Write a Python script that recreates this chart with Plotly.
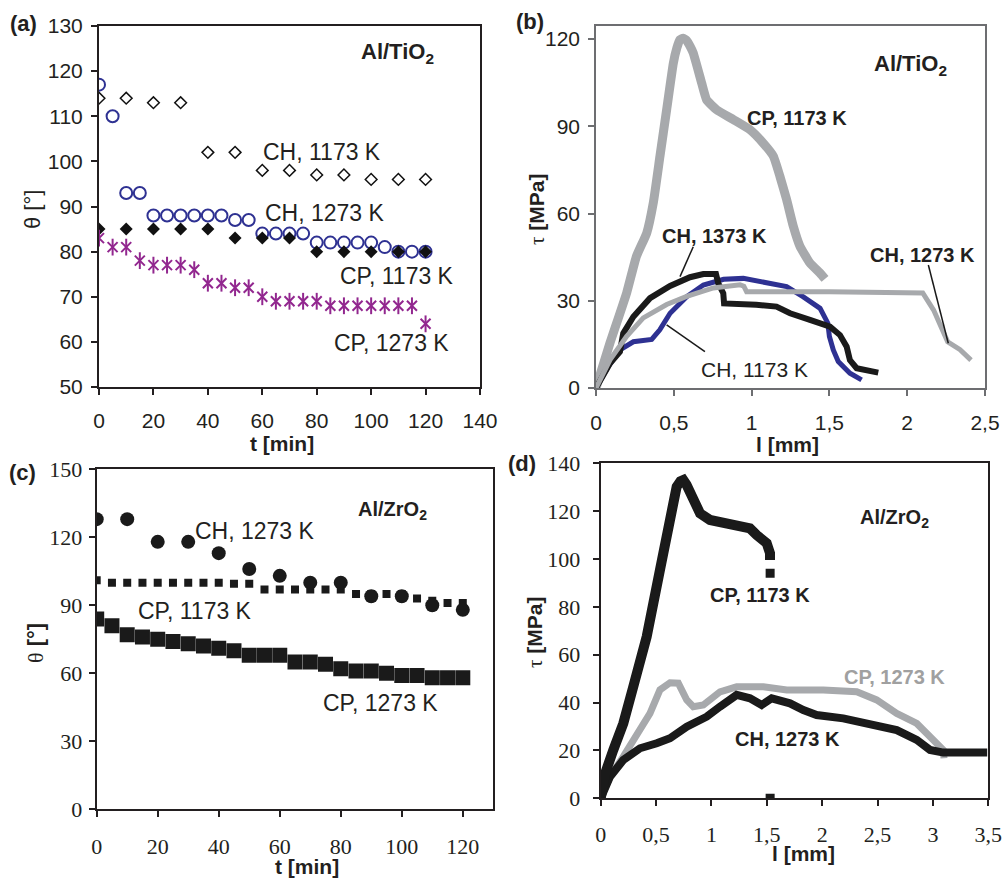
import plotly.graph_objects as go

# ---------------- Panel (a) Al/TiO2 contact angle ----------------
a_t13 = [0, 10, 20, 30, 40, 50, 60, 70, 80, 90, 100, 110, 120]
a_t5 = [0, 5, 10, 15, 20, 25, 30, 35, 40, 45, 50, 55, 60, 65, 70, 75, 80, 85, 90, 95, 100, 105, 110, 115, 120]
a_ch1173 = [114, 114, 113, 113, 102, 102, 98, 98, 97, 97, 96, 96, 96]
a_ch1273 = [117, 110, 93, 93, 88, 88, 88, 88, 88, 88, 87, 87, 84, 84, 84, 84, 82, 82, 82, 82, 82, 81, 80, 80, 80]
a_cp1173 = [85, 85, 85, 85, 85, 83, 83, 83, 80, 80, 80, 80, 80]
a_cp1273 = [83, 81, 81, 78, 77, 77, 77, 76, 73, 73, 72, 72, 70, 69, 69, 69, 69, 68, 68, 68, 68, 68, 68, 68, 64]

# ---------------- Panel (b) Al/TiO2 shear curves ----------------
b_cp1173_l = [0, 0.09, 0.197, 0.26, 0.326, 0.368, 0.411, 0.454, 0.497, 0.52, 0.54, 0.56, 0.583, 0.605, 0.625, 0.679, 0.711,
              0.775, 0.883, 0.99, 1.075, 1.14, 1.182, 1.225, 1.268, 1.311, 1.375, 1.44, 1.472]
b_cp1173_t = [0, 15.5, 32.7, 45.3, 53.3, 63.6, 79.7, 95.7, 111.7, 117.0, 119.8, 120.3, 119.5, 117.5, 115.2, 104.9, 99.1,
              95.7, 92.3, 88.8, 84.2, 79.7, 72.8, 64.8, 55.6, 48.7, 43.0, 39.5, 37.5]
b_ch1273_l = [0, 0.09, 0.197, 0.304, 0.454, 0.583, 0.754, 0.925, 0.95, 0.968, 1.5, 2.08, 2.1, 2.17, 2.26, 2.34, 2.41]
b_ch1273_t = [0, 9.7, 17.8, 24.1, 28.7, 31.5, 34.4, 35.5, 35.0, 33.1, 33.1, 33.1, 32.7, 26.8, 15.9, 13.2, 9.6]
b_ch1173_l = [0, 0.08, 0.154, 0.24, 0.358, 0.41, 0.476, 0.583, 0.69, 0.82, 0.947, 1.075, 1.225, 1.33,
              1.44, 1.49, 1.5, 1.525, 1.557, 1.632, 1.707]
b_ch1173_t = [0, 7.5, 13.1, 15.9, 16.7, 20, 25.7, 31.4, 35.4, 37.4, 37.7, 36.6, 34.9, 31.4,
              27.4, 22.3, 17.7, 13.1, 9.1, 5.1, 2.8]
b_ch1373_l = [0, 0.09, 0.154, 0.175, 0.24, 0.347, 0.476, 0.604, 0.69, 0.771, 0.786, 0.818, 0.823, 0.882,
              1.03, 1.16, 1.247, 1.375, 1.504, 1.568, 1.611, 1.632, 1.675, 1.814]
b_ch1373_t = [0, 8.5, 12.5, 18.8, 24.5, 30.9, 35.1, 38.1, 39.2, 39.2, 36, 32.6, 29.1, 29.1,
              28.6, 28, 25.7, 23.4, 21.1, 18.2, 14.2, 9.6, 6.8, 5.3]

# ---------------- Panel (c) Al/ZrO2 contact angle ----------------
c_t10 = [0, 10, 20, 30, 40, 50, 60, 70, 80, 90, 100, 110, 120]
c_t5 = [0, 5, 10, 15, 20, 25, 30, 35, 40, 45, 50, 55, 60, 65, 70, 75, 80, 85, 90, 95, 100, 105, 110, 115, 120]
c_ch1273 = [128, 128, 118, 118, 113, 106, 103, 100, 100, 94, 94, 90, 88]
c_cp1173 = [101, 100, 100, 100, 100, 100, 100, 100, 100, 99.5, 99.5, 97, 97, 97, 97, 97, 97, 95, 95, 95, 95, 93, 92, 91, 91]
c_cp1273 = [84, 81, 77, 76, 75, 74, 73, 72, 71, 70, 68, 68, 68, 65, 65, 64, 62, 61, 61, 60, 59, 59, 58, 58, 58]

# ---------------- Panel (d) Al/ZrO2 shear curves ----------------
d_cp1173_l = [0, 0.04, 0.114, 0.204, 0.294, 0.415, 0.535, 0.626, 0.686, 0.72, 0.746, 0.775, 0.806, 0.897, 0.987,
              1.168, 1.348, 1.409, 1.499, 1.529, 1.529]
d_cp1173_t = [0, 10.4, 20.2, 31.3, 46.6, 67.5, 95.4, 119.1, 130.2, 132.5, 133, 131, 127.5, 119.1, 116.3,
              114.9, 112.8, 110, 106.6, 102.4, 99.6]
d_cp1173_pts_l = [1.53, 1.53]
d_cp1173_pts_t = [94, 0]
d_ch1273_l = [0, 0.084, 0.204, 0.355, 0.506, 0.626, 0.777, 0.957, 1.077, 1.228, 1.348, 1.454, 1.544,
              1.709, 1.83, 1.95, 2.19, 2.432, 2.673, 2.854, 2.974, 3.094, 3.49]
d_ch1273_t = [0, 9, 16, 20.9, 23, 25.1, 29.9, 34.1, 38.3, 43.2, 41.8, 39, 41.8,
              39.7, 36.9, 34.8, 33.4, 31.3, 28.5, 24.4, 20.2, 19.1, 19.1]
d_cp1273_l = [0, 0.084, 0.204, 0.355, 0.445, 0.535, 0.626, 0.701, 0.777, 0.836, 0.927, 1.077, 1.228,
              1.469, 1.68, 2.01, 2.312, 2.492, 2.673, 2.854, 3.004, 3.094, 3.1]
d_cp1273_t = [0, 9, 17.4, 28.5, 35.5, 45.3, 48.3, 48.1, 41.1, 38.3, 39, 44.5, 46.6,
              46.6, 45.3, 45.3, 44.5, 41.1, 35.5, 31.3, 24.4, 20.2, 16.7]

W, H = 1006, 878
TXT = "#231f20"
SANS = "Liberation Sans, Arial, sans-serif"
SERIF = "Liberation Serif, Times New Roman, serif"
BLUE = "#2e3192"
PURPLE = "#92278f"
LGRAY = "#a7a9ac"


def dom_x(p0, p1):
    return [p0 / W, p1 / W]


def dom_y(p_top, p_bot):
    return [1 - p_bot / H, 1 - p_top / H]


fig = go.Figure()

# (a)
fig.add_trace(go.Scatter(x=a_t13, y=a_ch1173, mode="markers", xaxis="x", yaxis="y",
                         marker=dict(symbol="diamond-open", size=9, color="#111", line=dict(width=1.5))))
fig.add_trace(go.Scatter(x=a_t5, y=a_ch1273, mode="markers", xaxis="x", yaxis="y",
                         marker=dict(symbol="circle-open", size=12, color=BLUE, line=dict(width=2))))
fig.add_trace(go.Scatter(x=a_t13, y=a_cp1173, mode="markers", xaxis="x", yaxis="y",
                         marker=dict(symbol="diamond", size=10, color="#111")))
fig.add_trace(go.Scatter(x=a_t5, y=a_cp1273, mode="markers", xaxis="x", yaxis="y",
                         marker=dict(symbol="x-thin-open", size=10, color=PURPLE, line=dict(width=2, color=PURPLE))))
fig.add_trace(go.Scatter(x=a_t5, y=a_cp1273, mode="markers", xaxis="x", yaxis="y",
                         marker=dict(symbol="line-ns-open", size=12, color=PURPLE, line=dict(width=2, color=PURPLE))))

# (b)
fig.add_trace(go.Scatter(x=b_cp1173_l, y=b_cp1173_t, mode="lines", xaxis="x2", yaxis="y2",
                         line=dict(color=LGRAY, width=9, shape="spline", smoothing=0.4)))
fig.add_trace(go.Scatter(x=b_ch1173_l, y=b_ch1173_t, mode="lines", xaxis="x2", yaxis="y2",
                         line=dict(color=BLUE, width=5)))
fig.add_trace(go.Scatter(x=b_ch1373_l, y=b_ch1373_t, mode="lines", xaxis="x2", yaxis="y2",
                         line=dict(color="#1a1a1a", width=6)))
fig.add_trace(go.Scatter(x=b_ch1273_l, y=b_ch1273_t, mode="lines", xaxis="x2", yaxis="y2",
                         line=dict(color=LGRAY, width=5)))

# (c)
fig.add_trace(go.Scatter(x=c_t5, y=c_cp1273, mode="markers", xaxis="x3", yaxis="y3",
                         marker=dict(symbol="square", size=15, color="#1a1a1a")))
fig.add_trace(go.Scatter(x=c_t5, y=c_cp1173, mode="markers", xaxis="x3", yaxis="y3",
                         marker=dict(symbol="square", size=8, color="#1a1a1a")))
fig.add_trace(go.Scatter(x=c_t10, y=c_ch1273, mode="markers", xaxis="x3", yaxis="y3",
                         marker=dict(symbol="circle", size=14, color="#1a1a1a")))

# (d)
fig.add_trace(go.Scatter(x=d_cp1273_l, y=d_cp1273_t, mode="lines", xaxis="x4", yaxis="y4",
                         line=dict(color=LGRAY, width=7)))
fig.add_trace(go.Scatter(x=d_ch1273_l, y=d_ch1273_t, mode="lines", xaxis="x4", yaxis="y4",
                         line=dict(color="#1a1a1a", width=8)))
fig.add_trace(go.Scatter(x=d_cp1173_l, y=d_cp1173_t, mode="lines", xaxis="x4", yaxis="y4",
                         line=dict(color="#1a1a1a", width=10)))
fig.add_trace(go.Scatter(x=d_cp1173_pts_l, y=d_cp1173_pts_t, mode="markers", xaxis="x4", yaxis="y4",
                         marker=dict(symbol="square", size=9, color="#1a1a1a")))


def axis(domain, rng, tickvals, ticktext, anchor, family, size, standoff, color="#231f20", lw=2):
    return dict(domain=domain, range=rng, tickvals=tickvals, ticktext=ticktext, anchor=anchor,
                ticks="outside", ticklen=6, tickwidth=1.5, tickcolor=color,
                showline=True, linecolor=color, linewidth=lw, mirror=True,
                showgrid=False, zeroline=False, fixedrange=True, automargin=False,
                tickfont=dict(family=family, size=size, color=TXT),
                ticklabelstandoff=standoff)


fig.update_layout(
    width=W, height=H, margin=dict(l=0, r=0, t=0, b=0, pad=0, autoexpand=False),
    paper_bgcolor="white", plot_bgcolor="white", showlegend=False,
    xaxis=axis(dom_x(99, 480), [0, 140], [0, 20, 40, 60, 80, 100, 120, 140],
               ["0", "20", "40", "60", "80", "100", "120", "140"], "y", SANS, 21, 8),
    yaxis=axis(dom_y(26, 387), [50, 130], [50, 60, 70, 80, 90, 100, 110, 120, 130],
               ["50", "60", "70", "80", "90", "100", "110", "120", "130"], "x", SANS, 21, 4),
    xaxis2=axis(dom_x(596, 985), [0, 2.5], [0, 0.5, 1, 1.5, 2, 2.5],
                ["0", "0,5", "1", "1,5", "2", "2,5"], "y2", SANS, 21, 9, color="#6d6e71", lw=1.5),
    yaxis2=axis(dom_y(26, 388), [0, 124.5], [0, 30, 60, 90, 120],
                ["0", "30", "60", "90", "120"], "x2", SANS, 21, 4, color="#6d6e71", lw=1.5),
    xaxis3=axis(dom_x(96.7, 493.3), [0, 130], [0, 20, 40, 60, 80, 100, 120],
                ["0", "20", "40", "60", "80", "100", "120"], "y3", SERIF, 22, 10),
    yaxis3=axis(dom_y(469.3, 809.3), [0, 150], [0, 30, 60, 90, 120, 150],
                ["0", "30", "60", "90", "120", "150"], "x3", SERIF, 22, 2),
    xaxis4=axis(dom_x(600.7, 988.3), [0, 3.5], [0, 0.5, 1, 1.5, 2, 2.5, 3, 3.5],
                ["0", "0,5", "1", "1,5", "2", "2,5", "3", "3,5"], "y4", SERIF, 22, 9),
    yaxis4=axis(dom_y(463.3, 798.3), [0, 140], [0, 20, 40, 60, 80, 100, 120, 140],
                ["0", "20", "40", "60", "80", "100", "120", "140"], "x4", SERIF, 22, 8),
)

ann = []


def lab(text, x, y, xref, yref, size, color=TXT, family=SANS, angle=0):
    ann.append(dict(text=text, x=x, y=y, xref=xref, yref=yref, showarrow=False,
                    xanchor="center", yanchor="middle", textangle=angle,
                    font=dict(family=family, size=size, color=color)))


# data-anchored labels
lab("<b>Al/TiO<sub>2</sub></b>", 109.5, 124, "x", "y", 22)
lab("CH, 1173 K", 82, 102, "x", "y", 23)
lab("CH, 1273 K", 83, 88.5, "x", "y", 23)
lab("CP, 1173 K", 109.5, 74.6, "x", "y", 23)
lab("CP, 1273 K", 107.3, 59.7, "x", "y", 23)

lab("<b>Al/TiO<sub>2</sub></b>", 2.02, 111, "x2", "y2", 22)
lab("<b>CP, 1173 K</b>", 1.29, 92.8, "x2", "y2", 20)
lab("<b>CH, 1373 K</b>", 0.76, 52.4, "x2", "y2", 20)
lab("CH, 1173 K", 1.02, 6.2, "x2", "y2", 21)
lab("<b>CH, 1273 K</b>", 2.1, 45.8, "x2", "y2", 20)

lab("<b>Al/ZrO<sub>2</sub></b>", 96.8, 132, "x3", "y3", 20)
lab("CH, 1273 K", 52, 122.8, "x3", "y3", 23)
lab("CP, 1173 K", 32.3, 87.6, "x3", "y3", 23)
lab("CP, 1273 K", 93, 46.8, "x3", "y3", 23)

lab("<b>Al/ZrO<sub>2</sub></b>", 2.657, 117, "x4", "y4", 20)
lab("<b>CP, 1173 K</b>", 1.438, 85, "x4", "y4", 20)
lab("<b>CP, 1273 K</b>", 2.657, 50.8, "x4", "y4", 20, color="#a0a0a0")
lab("<b>CH, 1273 K</b>", 1.685, 24.6, "x4", "y4", 20)


# panel letters and axis titles (paper coordinates)
def plab(text, px, py, size, family=SANS, angle=0):
    ann.append(dict(text=text, x=px / W, y=1 - py / H, xref="paper", yref="paper", showarrow=False,
                    xanchor="center", yanchor="middle", textangle=angle,
                    font=dict(family=family, size=size, color=TXT)))


plab("<b>(a)</b>", 23, 24, 22)
plab("<b>(b)</b>", 530, 22, 22)
plab("<b>(c)</b>", 22, 472, 22)
plab("<b>(d)</b>", 522, 463, 22)
plab("<b>t [min]</b>", 282, 443, 21)
plab("<b>l [mm]</b>", 787, 444, 21)
plab("<b>t [min]</b>", 307, 866, 21)
plab("<b>l [mm]</b>", 803, 853, 21)
plab("θ [°]", 33, 210, 22, angle=-90)
plab("<span style='font-family:Liberation Serif'>τ</span> <b>[MPa]</b>", 537, 210, 21, angle=-90)
plab("<span style='font-family:Liberation Serif'>θ</span> <b>[°]</b>", 35, 643, 22, angle=-90)
plab("<span style='font-family:Liberation Serif'>τ</span> <b>[MPa]</b>", 535, 633, 21, angle=-90)

fig.update_layout(annotations=ann)

# leader lines in panel (b)
shapes = [
    dict(type="line", xref="x2", yref="y2", x0=0.625, y0=48.6, x1=0.54, y1=38.3, line=dict(color="#1a1a1a", width=1.5)),
    dict(type="line", xref="x2", yref="y2", x0=0.70, y0=12.5, x1=0.454, y1=21.7, line=dict(color="#1a1a1a", width=1.5)),
    dict(type="line", xref="x2", yref="y2", x0=2.136, y0=42.3, x1=2.264, y1=15.4, line=dict(color="#1a1a1a", width=1.5)),
]
fig.update_layout(shapes=shapes)

fig.write_html("out.html")
